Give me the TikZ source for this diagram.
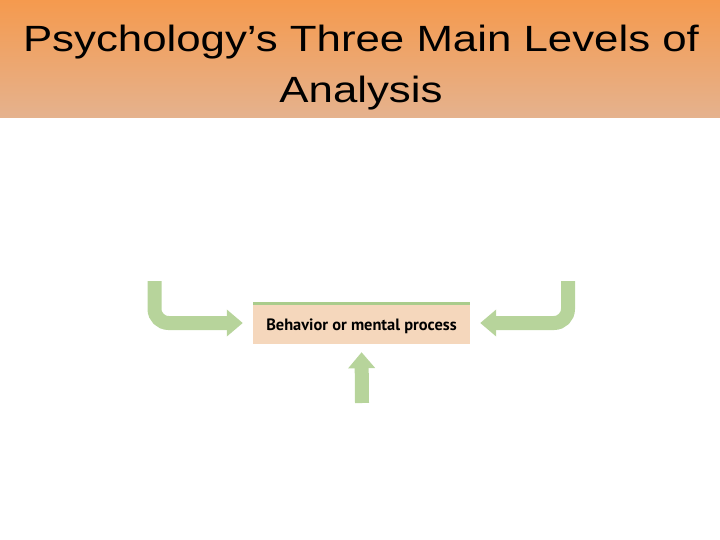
\documentclass[tikz,border=0pt]{standalone}
\usepackage{fontspec}
\setmainfont{Liberation Sans}
\newfontfamily\boxfont{PT Sans}
\usetikzlibrary{arrows.meta}
\definecolor{hdrtop}{RGB}{245,154,78}
\definecolor{hdrbot}{RGB}{229,178,142}
\definecolor{garrowc}{RGB}{183,212,155}
\definecolor{stripec}{RGB}{170,204,140}
\definecolor{peach}{RGB}{245,215,188}
\tikzset{
  garrow/.style={draw=garrowc, line width=14pt, rounded corners=14pt,
    -{Triangle[width=26pt,length=16pt]}},
  mainbox/.style={fill=peach, minimum width=217pt, minimum height=42pt, inner sep=0pt},
  titletext/.style={font=\fontsize{36.5}{40}\selectfont, text=black, inner sep=0pt}
}
\begin{document}
\begin{tikzpicture}[x=1pt,y=-1pt]
\useasboundingbox (0,0) rectangle (720,540);
\shade[top color=hdrtop, bottom color=hdrbot] (0,0) rectangle (720,118);
\node[titletext, anchor=base] (t1) at (361,52) {\scalebox{1.2}[1]{Psychology’s Three Main Levels of}};
\node[titletext, anchor=base] (t2) at (361,103) {\scalebox{1.2}[1]{Analysis}};
\node[mainbox] (box) at (361.5,323) {};
\fill[stripec] (box.north west) rectangle ([yshift=-3.5pt]box.north east);
\node[font=\boxfont\bfseries\fontsize{16.4}{18}\selectfont, anchor=base] (lbl) at (361.5,330) {Behavior or mental process};
\coordinate (l0) at (154.5,281);
\coordinate (r0) at (568,281);
\coordinate (b0) at (362,403);
\draw[garrow, shorten >=10pt] (l0) |- (box.west);
\draw[garrow, shorten >=10pt] (r0) |- (box.east);
\draw[garrow, shorten >=8pt] (b0) -- (box.south);
\end{tikzpicture}
\end{document}
